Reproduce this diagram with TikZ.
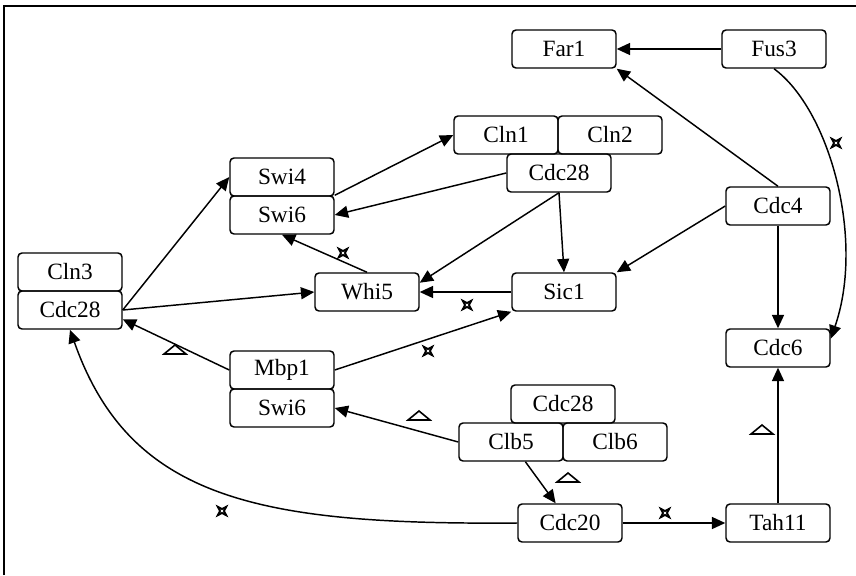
\documentclass[tikz,border=0pt]{standalone}
\usepackage{fontspec}
\setmainfont{Liberation Serif}
\usetikzlibrary{arrows.meta,calc}

\tikzset{
  prot/.style={draw, line width=1.1pt, rounded corners=3pt, minimum width=78pt,
    minimum height=28.5pt, inner sep=0pt, font=\fontsize{17.5}{19}\selectfont},
  arr/.style={line width=1.1pt, -{Triangle[length=10pt,width=9pt]}},
  inhib/.pic={\draw[line width=1.4pt] (45:6) -- (0:2) -- (-45:6) -- (-90:2) -- (-135:6) -- (180:2) -- (135:6) -- (90:2) -- cycle;},
  act/.pic={\draw[line width=1.2pt] (-11,4) -- (11,4) -- (0,-5) -- cycle;}
}

\begin{document}
\begin{tikzpicture}[x=0.75pt,y=-0.75pt]
  \useasboundingbox (0,0) rectangle (856,575);
  \draw[line width=1.5pt] (4,575) -- (4,6) -- (856,6);

  \node[prot] (far1) at (564,49) {Far1};
  \node[prot] (fus3) at (774,49) {Fus3};
  \node[prot] (cln1) at (506,135) {Cln1};
  \node[prot] (cln2) at (610,135) {Cln2};
  \node[prot] (cdc28t) at (559,173) {Cdc28};
  \node[prot] (swi4) at (282,177) {Swi4};
  \node[prot] (swi6t) at (282,215) {Swi6};
  \node[prot] (cdc4) at (778,206) {Cdc4};
  \node[prot] (cln3) at (70,272) {Cln3};
  \node[prot] (cdc28l) at (70,310) {Cdc28};
  \node[prot] (whi5) at (367,292) {Whi5};
  \node[prot] (sic1) at (564,292) {Sic1};
  \node[prot] (cdc6) at (778,348) {Cdc6};
  \node[prot] (mbp1) at (282,370) {Mbp1};
  \node[prot] (swi6m) at (282,408) {Swi6};
  \node[prot] (cdc28b) at (563,404) {Cdc28};
  \node[prot] (clb5) at (511,442) {Clb5};
  \node[prot] (clb6) at (615,442) {Clb6};
  \node[prot] (cdc20) at (570,523) {Cdc20};
  \node[prot] (tah11) at (778,523) {Tah11};

  \draw[arr] (fus3) -- (far1);
  \draw[arr] (cdc4.north) -- (far1.south east);
  \draw[arr] (fus3.south) .. controls (830,110) and (865,240) .. (cdc6.10);
  \draw[arr] (cdc4.west) -- (sic1.north east);
  \draw[arr] (cdc4) -- (cdc6);
  \draw[arr] (tah11) -- (cdc6);
  \draw[arr] (cdc20) -- (tah11);
  \draw[arr] (cdc20.west) .. controls (260,525) and (130,500) .. (cdc28l.south);
  \draw[arr] (clb5) -- (cdc20);
  \draw[arr] (clb5.west) -- (swi6m.east);
  \draw[arr] (mbp1.west) -- (cdc28l.-10);
  \draw[arr] (mbp1.east) -- (sic1.south west);
  \draw[arr] (cdc28l.east) -- (swi4.west);
  \draw[arr] (cdc28l.east) -- (whi5.west);
  \draw[arr] (whi5.north) -- (swi6t.south);
  \draw[arr] (swi6t.north east) -- (cln1.west);
  \draw[arr] (cdc28t.west) -- (swi6t.east);
  \draw[arr] (cdc28t.south) -- (whi5.10);
  \draw[arr] (cdc28t.south) -- (sic1.north);
  \draw[arr] (sic1) -- (whi5);

  \pic at (836,143) {inhib};
  \pic at (343,253) {inhib};
  \pic at (467,305) {inhib};
  \pic at (428,351) {inhib};
  \pic at (222,511) {inhib};
  \pic at (665,513) {inhib};
  \pic at (175,350) {act};
  \pic at (419,416) {act};
  \pic at (568,478) {act};
  \pic at (762,430) {act};
\end{tikzpicture}
\end{document}
